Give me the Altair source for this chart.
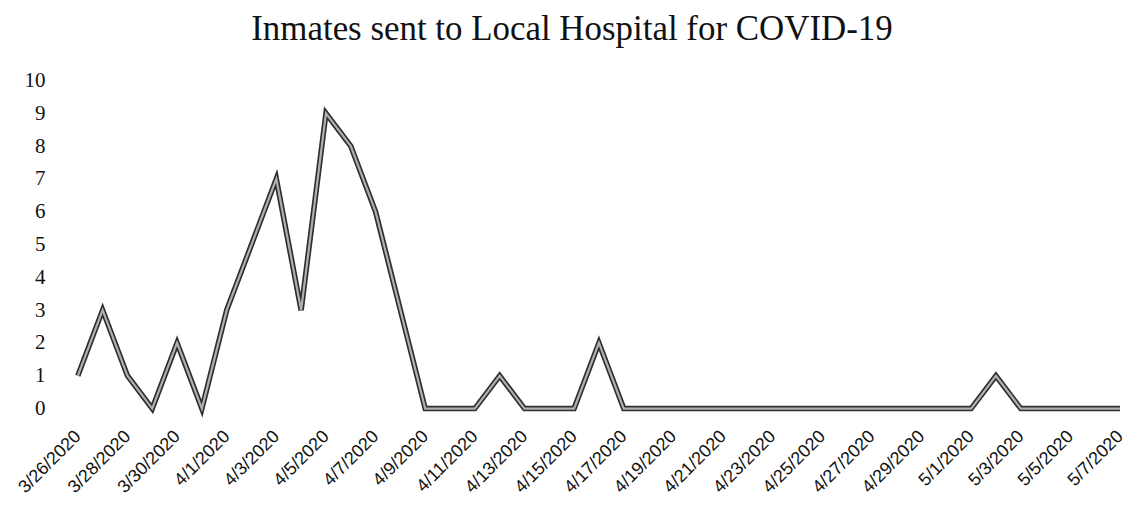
import altair as alt
import pandas as pd

dates = [
    "3/26/2020", "3/27/2020", "3/28/2020", "3/29/2020", "3/30/2020", "3/31/2020",
    "4/1/2020", "4/2/2020", "4/3/2020", "4/4/2020", "4/5/2020", "4/6/2020",
    "4/7/2020", "4/8/2020", "4/9/2020", "4/10/2020", "4/11/2020", "4/12/2020",
    "4/13/2020", "4/14/2020", "4/15/2020", "4/16/2020", "4/17/2020", "4/18/2020",
    "4/19/2020", "4/20/2020", "4/21/2020", "4/22/2020", "4/23/2020", "4/24/2020",
    "4/25/2020", "4/26/2020", "4/27/2020", "4/28/2020", "4/29/2020", "4/30/2020",
    "5/1/2020", "5/2/2020", "5/3/2020", "5/4/2020", "5/5/2020", "5/6/2020",
    "5/7/2020",
]
inmates = [
    1, 3, 1, 0, 2, 0,
    3, 5, 7, 3, 9, 8,
    6, 3, 0, 0, 0, 1,
    0, 0, 0, 2, 0, 0,
    0, 0, 0, 0, 0, 0,
    0, 0, 0, 0, 0, 0,
    0, 1, 0, 0, 0, 0,
    0,
]
tick_labels = dates[::2]
y_ticks = list(range(0, 11))

df = pd.DataFrame({"date": dates, "value": inmates, "order": list(range(len(dates)))})

x_enc = alt.X(
    "date:O",
    sort=dates,
    scale=alt.Scale(type="point", padding=0),
    axis=alt.Axis(
        values=tick_labels,
        title=None,
        labelAngle=-45,
        labelAlign="right",
        labelBaseline="middle",
        labelPadding=25,
        labelFont="Liberation Sans",
        labelFontSize=18,
        labelColor="#111111",
        tickSize=0,
        domain=False,
        grid=False,
        labelOverlap=False,
    ),
)
y_enc = alt.Y(
    "value:Q",
    scale=alt.Scale(domain=[0, 10], nice=False),
    axis=alt.Axis(
        values=y_ticks,
        title=None,
        labelFont="Liberation Serif",
        labelFontSize=21,
        labelColor="#111111",
        labelPadding=33,
        tickSize=0,
        domain=False,
        grid=False,
    ),
)

base = alt.Chart(df).encode(x=x_enc, y=y_enc, order="order:Q")
outer = base.mark_line(color="#2e2e2e", strokeWidth=5.5, strokeJoin="miter")
inner = base.mark_line(color="#b0b0b0", strokeWidth=2.2, strokeJoin="miter")

chart = (
    alt.layer(outer, inner)
    .properties(
        width=1045,
        height=329,
        autosize=alt.AutoSizeParams(type="none"),
        padding={"left": 70, "top": 72, "right": 8, "bottom": 91},
        view=alt.ViewBackground(strokeWidth=0, strokeOpacity=0),
        title=alt.TitleParams(
            "Inmates sent to Local Hospital for COVID-19",
            font="Liberation Serif",
            fontSize=35,
            fontWeight="normal",
            color="#111111",
            anchor="middle",
            dx=-27,
            offset=23,
        ),
    )
    .configure_view(strokeWidth=0, strokeOpacity=0)
    .configure(background="white")
)

chart.save("out.html", embed_options={"renderer": "svg", "actions": False})
